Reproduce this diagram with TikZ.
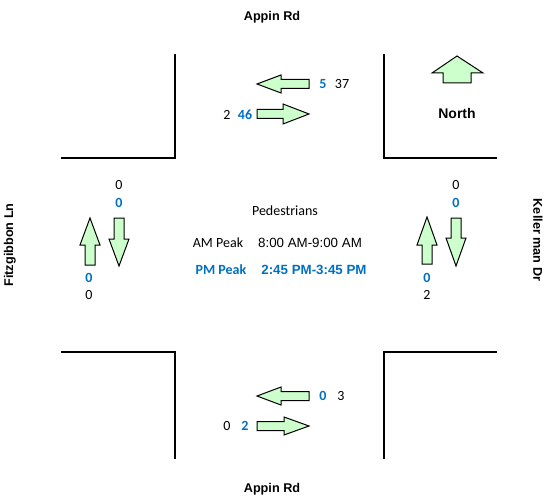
\documentclass[tikz,border=0pt]{standalone}
\usepackage{fontspec}
\setmainfont{Liberation Sans}
\newfontfamily\calfont{Carlito}
\definecolor{vblue}{RGB}{0,112,192}
\definecolor{agreen}{RGB}{204,255,204}
\tikzset{
  road/.style={line width=1.9pt, line cap=rect},
  flow/.style={draw=black, line width=0.75pt, fill=agreen, line join=miter},
  num/.style={font=\calfont\fontsize{10.5}{12}\selectfont, inner sep=0pt},
  bnum/.style={num, text=vblue, font=\calfont\bfseries\fontsize{10.5}{12}\selectfont},
  rname/.style={font=\bfseries\fontsize{9.5}{11}\selectfont, inner sep=0pt},
}
\begin{document}
\begin{tikzpicture}[x=0.75pt,y=-0.75pt]
\path[use as bounding box] (0,0) rectangle (545,499);
% road corners
\draw[road] (175,55) -- (175,158) -- (62,158);
\draw[road] (384,55) -- (384,158) -- (496,158);
\draw[road] (62,352) -- (175,352) -- (175,458);
\draw[road] (496,352) -- (384,352) -- (384,458);
% road names
\node[rname] (nTop) at (272,17) {Appin Rd};
\node[rname] (nBot) at (272,489) {Appin Rd};
\node[rname, rotate=90] (nLeft) at (10,245) {Fitzgibbon Ln};
\node[rname, rotate=-90] (nRight) at (538,240) {Keller man Dr};
% north arrow
\draw[flow] (457,56) -- (483,73) -- (471,73) -- (471,83) -- (443,83) -- (443,73) -- (432,73) -- cycle;
\node[font=\bfseries\fontsize{10.5}{12}\selectfont, inner sep=0pt] (north) at (457,113) {North};
% top arrows
\draw[flow] (257,84) -- (281,75) -- (281,79.5) -- (309,79.5) -- (309,88.5) -- (281,88.5) -- (281,93) -- cycle;
\draw[flow] (309,114) -- (283,104) -- (283,109.5) -- (257,109.5) -- (257,118.5) -- (283,118.5) -- (283,124) -- cycle;
\node[bnum] (t1) at (323,84) {5};
\node[num] (t2) at (342,84) {37};
\node[num] (t3) at (227,115) {2};
\node[bnum] (t4) at (245,115) {46};
% bottom arrows
\draw[flow] (257,396) -- (281,387) -- (281,391.5) -- (309,391.5) -- (309,400.5) -- (281,400.5) -- (281,405) -- cycle;
\draw[flow] (309,426) -- (284,417) -- (284,421.5) -- (257,421.5) -- (257,430.5) -- (284,430.5) -- (284,435) -- cycle;
\node[bnum] (b1) at (323,396) {0};
\node[num] (b2) at (341,396) {3};
\node[num] (b3) at (227,426) {0};
\node[bnum] (b4) at (245,426) {2};
% left arrows
\draw[flow] (90,218) -- (100,245) -- (95,245) -- (95,265) -- (85,265) -- (85,245) -- (80,245) -- cycle;
\draw[flow] (119,266) -- (129,239) -- (124,239) -- (124,218) -- (114,218) -- (114,239) -- (109,239) -- cycle;
\node[num] (l1) at (119,185) {0};
\node[bnum] (l2) at (119,203) {0};
\node[bnum] (l3) at (89,278) {0};
\node[num] (l4) at (89,295) {0};
% right arrows
\draw[flow] (427,217) -- (437,245) -- (432,245) -- (432,264) -- (422,264) -- (422,245) -- (417,245) -- cycle;
\draw[flow] (456,266) -- (466,238) -- (461,238) -- (461,218) -- (451,218) -- (451,238) -- (446,238) -- cycle;
\node[num] (r1) at (456,185) {0};
\node[bnum] (r2) at (456,203) {0};
\node[bnum] (r3) at (427,278) {0};
\node[num] (r4) at (427,295) {2};
% centre text
\node[font=\calfont\fontsize{10.5}{12}\selectfont, inner sep=0pt] (ped) at (285,211) {Pedestrians};
\node[font=\calfont\fontsize{10.5}{12}\selectfont, inner sep=0pt] (am) at (218,243) {AM Peak};
\node[font=\fontsize{10}{12}\selectfont, inner sep=0pt] (amt) at (310,243) {8:00 AM-9:00 AM};
\node[font=\calfont\bfseries\fontsize{10.5}{12}\selectfont, text=vblue, inner sep=0pt] (pm) at (221,270) {PM Peak};
\node[font=\bfseries\fontsize{10}{12}\selectfont, text=vblue, inner sep=0pt] (pmt) at (314,270) {2:45 PM-3:45 PM};
\end{tikzpicture}
\end{document}
